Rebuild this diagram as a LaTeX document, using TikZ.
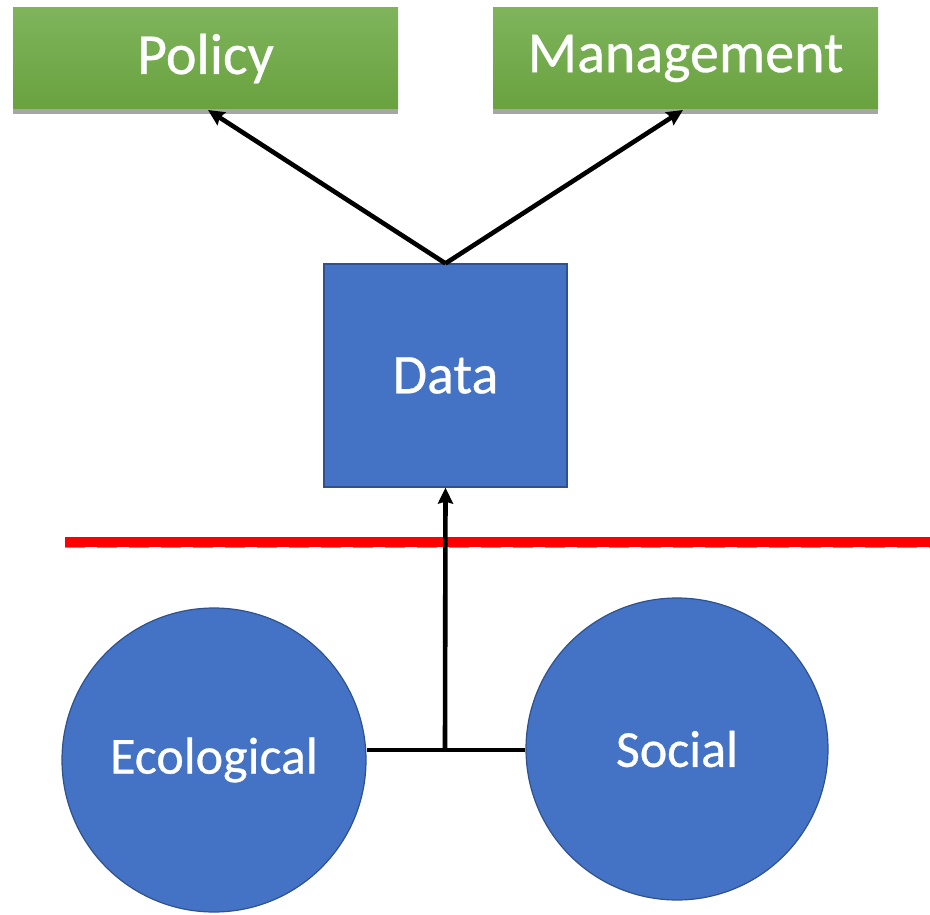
\documentclass[tikz,border=0pt]{standalone}
\usepackage{fontspec}
\setmainfont{Carlito}
\newfontfamily\labelfont{Carlito}[FakeBold=0.6]
\usetikzlibrary{arrows.meta,shadows}
\definecolor{bluefill}{HTML}{4472C4}
\definecolor{blueedge}{HTML}{2F528F}
\definecolor{greentop}{HTML}{7FB45C}
\definecolor{greenbot}{HTML}{69A23F}
\tikzset{
  greenbox/.style={rectangle, minimum width=385pt, minimum height=101pt, inner sep=0pt,
    top color=greentop, bottom color=greenbot, draw=none, text=white,
    font=\labelfont\fontsize{58}{60}\selectfont,
    drop shadow={shadow xshift=0pt, shadow yshift=-5pt, opacity=0.35, fill=black}},
  bluebox/.style={rectangle, minimum width=243pt, minimum height=223pt, inner sep=0pt,
    fill=bluefill, draw=blueedge, line width=1.2pt, text=white, font=\labelfont\fontsize{56}{58}\selectfont},
  bluecirc/.style={circle, inner sep=0pt, fill=bluefill, draw=blueedge, line width=1.2pt,
    text=white, font=\labelfont\fontsize{52}{54}\selectfont},
  conn/.style={black, line width=4.6pt},
  arr/.style={conn, -{Stealth[length=16pt, width=15pt, inset=2pt]}}
}
\begin{document}
\begin{tikzpicture}[x=1pt, y=-1pt]
\useasboundingbox (0,0) rectangle (930,915);
\node[greenbox] (policy) at (205.5,58.5) {Policy};
\node[greenbox] (mgmt) at (685.5,58.5) {Management};
\node[bluebox] (data) at (445.5,375.5) {Data};
\node[bluecirc, minimum size=304pt] (eco) at (214,760) {Ecological};
\node[bluecirc, minimum size=302pt] (soc) at (677,749) {Social};
\coordinate (j) at (445,750);
\coordinate (rl) at (65,542);
\coordinate (rr) at (930,542);
% red line with shadow
\draw[gray!80, line width=4pt, dash pattern=on 20pt off 12pt] ([yshift=-4pt]rl) -- ([yshift=-4pt]rr);
\draw[red, line width=10pt] (rl) -- (rr);
% connectors
\draw[conn] (eco.east |- j) -- (soc.west |- j);
\draw[arr] (j) -- (data.south);
\draw[arr] (data.north) -- (208,110);
\draw[arr] (data.north) -- (683,110);
\end{tikzpicture}
\end{document}
